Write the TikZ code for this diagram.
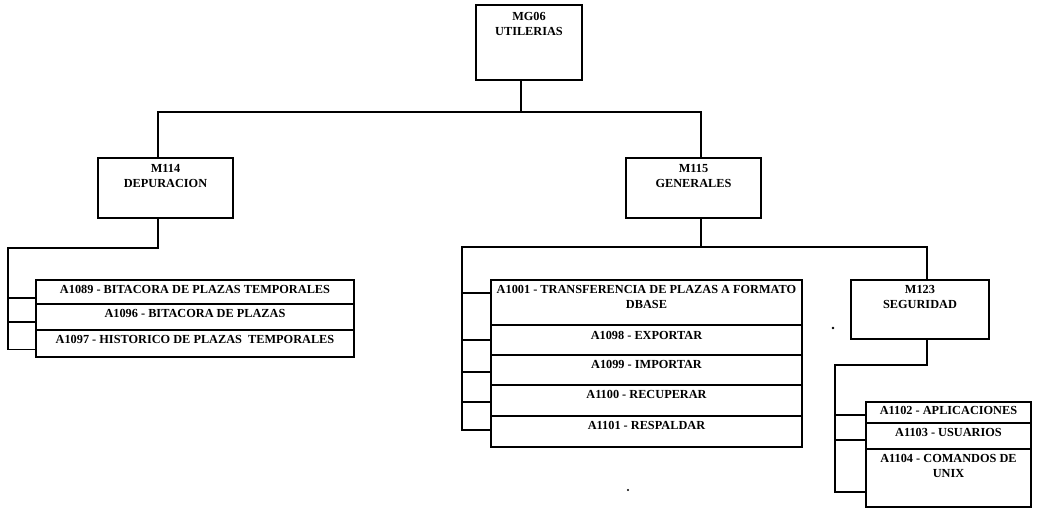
\documentclass[tikz,border=0pt]{standalone}
\usepackage{fontspec}
\setmainfont{Liberation Serif}
% top-aligned, centred text inside a box of fixed size: width, height, top gap, text
\newcommand\boxtxt[4]{\parbox[t][#2][t]{#1}{\vspace*{#3}\centering #4}}
\begin{document}
\begin{tikzpicture}[x=1pt,y=-1pt,
  box/.style={draw=black, line width=1.7pt, inner sep=0pt, outer sep=0pt, anchor=north west,
              font=\fontsize{12.3}{15}\selectfont\bfseries},
  wire/.style={draw=black, line width=1.4pt}]
\useasboundingbox[fill=white] (0,0) rectangle (1037,512);

% ---- modules ----
\node[box] (mg06) at (476,5)   {\boxtxt{106pt}{75pt}{7pt}{MG06\\UTILERIAS}};
\node[box] (m114) at (98,158)  {\boxtxt{135pt}{60pt}{6pt}{M114\\DEPURACION}};
\node[box] (m115) at (626,158) {\boxtxt{135pt}{60pt}{6pt}{M115\\GENERALES}};
\node[box] (m123) at (851,280) {\boxtxt{138pt}{59pt}{5pt}{M123\\SEGURIDAD}};

% ---- DEPURACION options ----
\node[box] (a1089) at (36,280) {\boxtxt{318pt}{24pt}{5pt}{A1089 - BITACORA DE PLAZAS TEMPORALES}};
\node[box] (a1096) at (36,304) {\boxtxt{318pt}{26pt}{5pt}{A1096 - BITACORA DE PLAZAS}};
\node[box] (a1097) at (36,330) {\boxtxt{318pt}{27pt}{5pt}{A1097 - HISTORICO DE PLAZAS\ \ TEMPORALES}};

% ---- GENERALES options ----
\node[box] (a1001) at (491,280) {\boxtxt{311pt}{45pt}{5pt}{A1001 - TRANSFERENCIA DE PLAZAS A FORMATO\\DBASE}};
\node[box] (a1098) at (491,325) {\boxtxt{311pt}{30pt}{6pt}{A1098 - EXPORTAR}};
\node[box] (a1099) at (491,355) {\boxtxt{311pt}{30pt}{5pt}{A1099 - IMPORTAR}};
\node[box] (a1100) at (491,385) {\boxtxt{311pt}{31pt}{5pt}{A1100 - RECUPERAR}};
\node[box] (a1101) at (491,416) {\boxtxt{311pt}{31pt}{5pt}{A1101 - RESPALDAR}};

% ---- SEGURIDAD options ----
\node[box] (a1102) at (866,402) {\boxtxt{165pt}{21pt}{4pt}{A1102 - APLICACIONES}};
\node[box] (a1103) at (866,423) {\boxtxt{165pt}{26pt}{5pt}{A1103 - USUARIOS}};
\node[box] (a1104) at (866,449) {\boxtxt{165pt}{58pt}{5pt}{A1104 - COMANDOS DE\\UNIX}};

% ---- bus points ----
\coordinate (topbus) at (521,112);
\coordinate (lbus)   at (8,248);
\coordinate (mbus)   at (701,247);
\coordinate (mleft)  at (462,247);
\coordinate (mright) at (927,247);
\coordinate (rbus)   at (835,365);

% root to first level
\draw[wire] (mg06.south -| topbus) -- (topbus);
\draw[wire] ([xshift=-7.5pt]m114.north) |- (topbus) -| ([xshift=7.5pt]m115.north);

% DEPURACION branch
\draw[wire] ([xshift=-7.5pt]m114.south) |- (lbus) |- ([yshift=-6pt]a1097.west);
\draw[wire] ([yshift=-6pt]a1089.west) -| (lbus);
\draw[wire] ([yshift=-5pt]a1096.west) -| (lbus);

% GENERALES branch
\draw[wire] (m115.south -| mbus) -- (mbus);
\draw[wire] ([yshift=1.5pt]a1101.west) -| (mleft) -- (mright) -- (m123.north -| mright);
\draw[wire] ([yshift=9.5pt]a1001.west) -| (mleft);
\draw[wire] (a1098.west) -| (mleft);
\draw[wire] ([yshift=-2pt]a1099.west) -| (mleft);
\draw[wire] ([yshift=-1.5pt]a1100.west) -| (mleft);

% SEGURIDAD branch
\draw[wire] ([xshift=7pt]m123.south) |- (rbus) |- ([yshift=-14pt]a1104.west);
\draw[wire] ([yshift=-2.5pt]a1102.west) -| (rbus);
\draw[wire] ([yshift=-4pt]a1103.west) -| (rbus);

% specks
\fill (833,328) circle (1.3pt);
\fill (628,490) circle (1.1pt);
\end{tikzpicture}
\end{document}
